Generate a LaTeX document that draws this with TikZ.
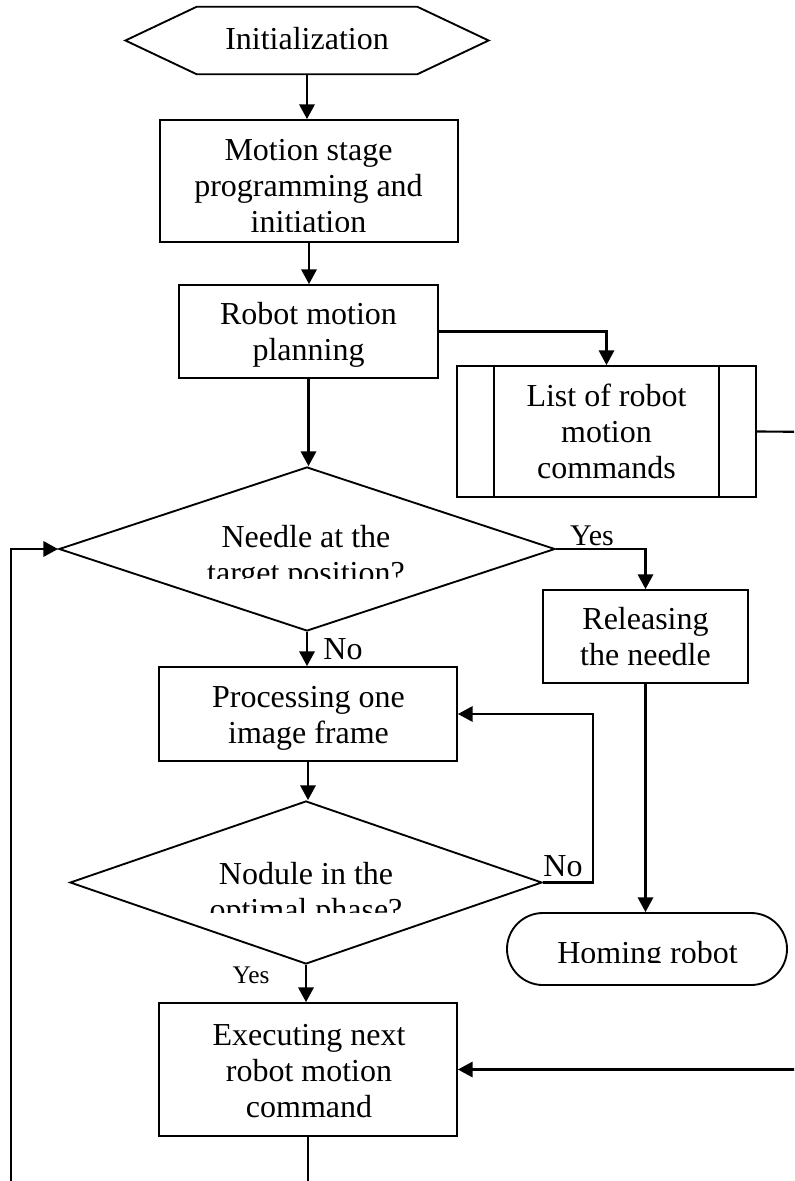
\documentclass[tikz,border=0pt]{standalone}
\usepackage{fontspec}
\setmainfont{Liberation Serif}
\usetikzlibrary{arrows.meta,shapes.geometric}
\tikzset{
  flow/.style={line width=1.6pt},
  arr/.style={flow,-{Triangle[length=11pt,width=11.5pt]}},
  shp/.style={draw,line width=1.4pt,inner sep=0pt},
  box/.style={shp,rectangle},
  dec/.style={shp,diamond},
  txt/.style={align=center,anchor=base,inner sep=0pt,font=\fontsize{24}{27}\selectfont},
  lbl/.style={anchor=base,inner sep=0pt,font=\fontsize{22.5}{24}\selectfont},
  slbl/.style={anchor=base,inner sep=0pt,font=\fontsize{19}{21}\selectfont},
}
\begin{document}
\begin{tikzpicture}[x=0.75pt,y=-0.75pt]
\clip (0,0) rectangle (794,1181);
% shapes
\node[minimum width=165pt,minimum height=50.25pt,inner sep=0pt] (init) at (307,40.5) {};
\draw[line width=1.4pt] (init.north west) -- (init.north east) -- ([xshift=53.5pt]init.east)
  -- (init.south east) -- (init.south west) -- ([xshift=-53.5pt]init.west) -- cycle;
\node[box,minimum width=223.5pt,minimum height=91.5pt] (stage) at (309,181) {};
\node[box,minimum width=194.25pt,minimum height=69.75pt] (plan) at (308.5,331.5) {};
\node[box,minimum width=224.25pt,minimum height=98.25pt] (list) at (606.5,431.5) {};
\draw[line width=1.4pt] ([xshift=28.5pt]list.north west) -- ([xshift=28.5pt]list.south west);
\draw[line width=1.4pt] ([xshift=-28.5pt]list.north east) -- ([xshift=-28.5pt]list.south east);
\node[dec,minimum width=372pt,minimum height=123pt] (d1) at (307,549) {};
\node[box,minimum width=153.75pt,minimum height=69.75pt] (rel) at (645.5,636.5) {};
\node[box,minimum width=223.5pt,minimum height=70.5pt] (proc) at (308,714) {};
\node[dec,minimum width=354pt,minimum height=122.25pt] (d2) at (306,882.5) {};
\node[box,rounded corners=27pt,minimum width=210pt,minimum height=54pt] (home) at (647,949) {};
\node[box,minimum width=223.5pt,minimum height=99.75pt] (exec) at (308,1069.5) {};
% texts (anchor base = baseline of the last line)
\node[txt] (initT) at (307,50) {Initialization};
\begin{scope}
\clip (160,120) rectangle (458,231);
\node[txt] (stageT) at (308.5,232) {Motion stage\\programming and\\initiation};
\end{scope}
\node[txt] (planT) at (308.5,360) {Robot motion\\planning};
\node[txt] (listT) at (606.5,478) {List of robot\\motion\\commands};
\begin{scope}
\clip (60,467) rectangle (554,578);
\node[txt] (d1T) at (306,583) {Needle at the\\target position?};
\end{scope}
\node[txt] (relT) at (645.5,665) {Releasing\\the needle};
\node[txt] (procT) at (308.5,743) {Processing one\\image frame};
\begin{scope}
\clip (70,801) rectangle (542,912);
\node[txt] (d2T) at (306,920) {Nodule in the\\optimal phase?};
\end{scope}
\begin{scope}
\clip (507,913) rectangle (787,962);
\node[txt] (homeT) at (647.5,963) {Homing robot};
\end{scope}
\node[txt] (execT) at (309,1117) {Executing next\\robot motion\\command};
% labels
\node[lbl] (yes1) at (592,545) {Yes};
\node[txt] (no1) at (343,659) {No};
\node[txt] (no2) at (563,876) {No};
\node[slbl] (yes2) at (251,983) {Yes};
% off-page coordinates
\coordinate (offR) at (830,432);
\coordinate (offL) at (11,1220);
\coordinate (offB) at (308,1220);
% connectors
\draw[arr] (init.south) -- (init.south |- stage.north);
\draw[arr] (stage.south) -- (stage.south |- plan.north);
\draw[arr] (plan.east) -| (list.north);
\draw[arr] (plan.south) -- (plan.south |- d1.north);
\draw[flow] (list.east) -- (offR);
\draw[arr] (offR) |- (exec.east);
\draw[arr] (d1.east) -| (rel.north);
\draw[arr] (d1.south) -- (d1.south |- proc.north);
\draw[arr] (proc.south) -- (proc.south |- d2.north);
\draw[arr] (d2.east) -- ++(50,0) |- (proc.east);
\draw[arr] (d2.south) -- (d2.south |- exec.north);
\draw[arr] (rel.south) -- (rel.south |- home.north);
\draw[flow] (exec.south) -- (offB);
\draw[arr] (offL) |- (d1.west);
\end{tikzpicture}
\end{document}
